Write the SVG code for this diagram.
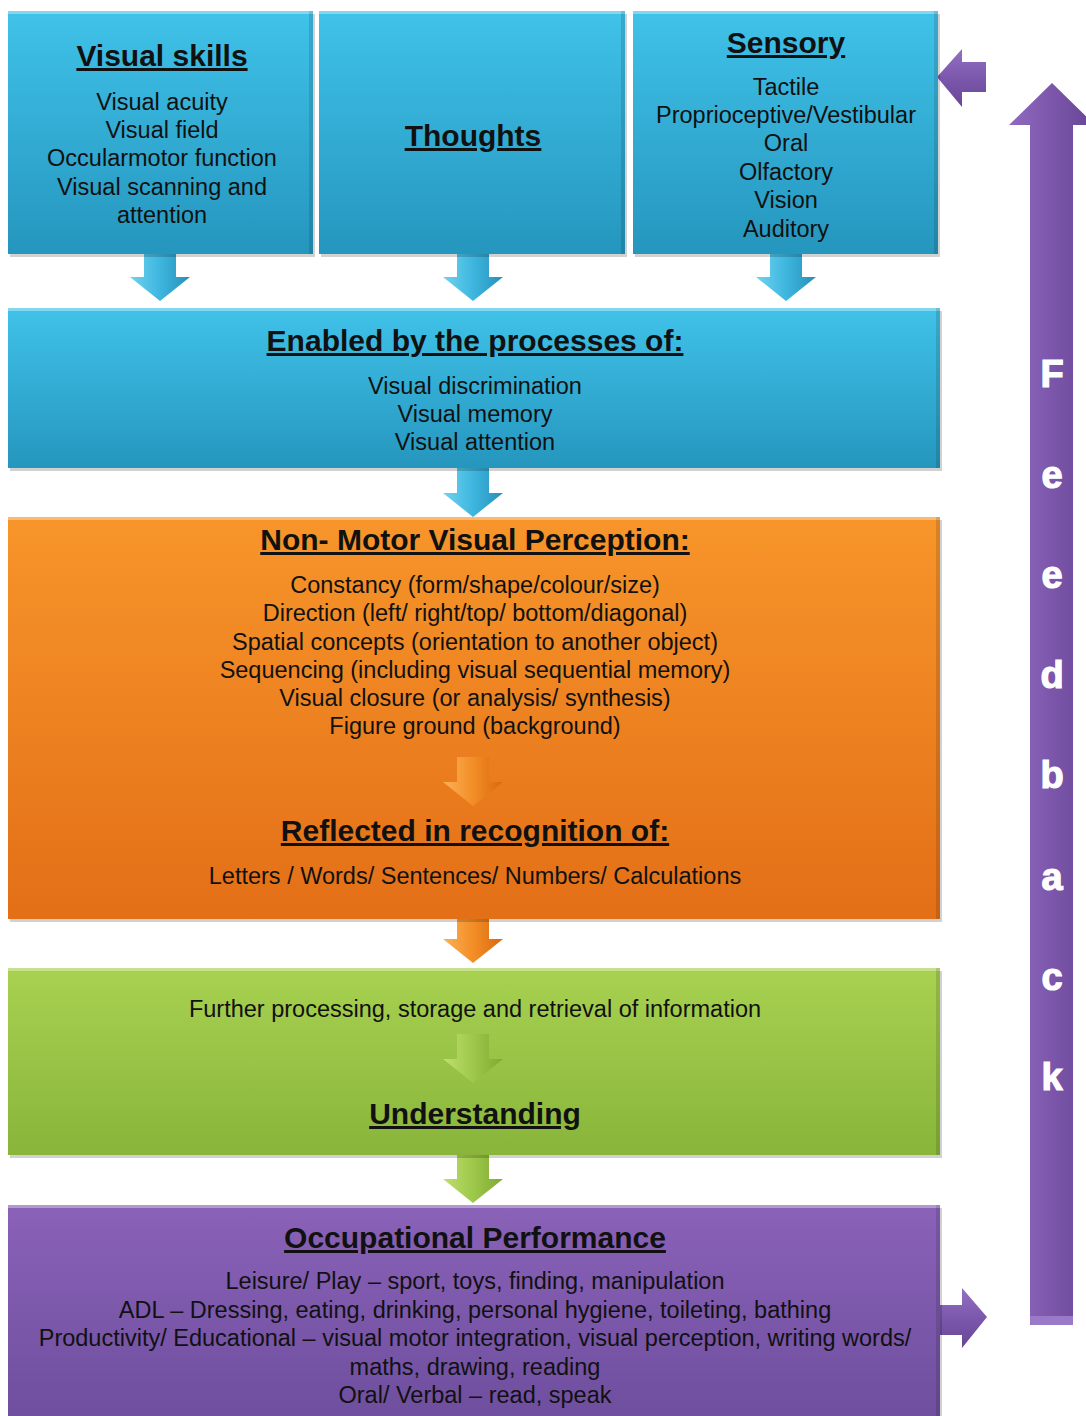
<svg xmlns="http://www.w3.org/2000/svg" width="1086" height="1416" viewBox="0 0 1086 1416">
<defs>
<linearGradient id="gBlue" x1="0" y1="0" x2="0" y2="1"><stop offset="0" stop-color="#40C2E9"/><stop offset="1" stop-color="#2596BE"/></linearGradient>
<linearGradient id="gOrange" x1="0" y1="0" x2="0" y2="1"><stop offset="0" stop-color="#F7952A"/><stop offset="1" stop-color="#E36F17"/></linearGradient>
<linearGradient id="gGreen" x1="0" y1="0" x2="0" y2="1"><stop offset="0" stop-color="#A8D150"/><stop offset="1" stop-color="#88B53A"/></linearGradient>
<linearGradient id="gPurple" x1="0" y1="0" x2="0" y2="1"><stop offset="0" stop-color="#8A62B8"/><stop offset="1" stop-color="#6E4E9E"/></linearGradient>
<linearGradient id="aBlue" x1="0" y1="0" x2="1" y2="0"><stop offset="0" stop-color="#6FD3F0"/><stop offset="0.5" stop-color="#3EB6DF"/><stop offset="1" stop-color="#2690B8"/></linearGradient>
<linearGradient id="aOrange" x1="0" y1="0" x2="1" y2="0"><stop offset="0" stop-color="#FCB058"/><stop offset="0.5" stop-color="#F38E26"/><stop offset="1" stop-color="#D9680F"/></linearGradient>
<linearGradient id="aGreen" x1="0" y1="0" x2="1" y2="0"><stop offset="0" stop-color="#C0DF70"/><stop offset="0.5" stop-color="#9DC84A"/><stop offset="1" stop-color="#7FA932"/></linearGradient>
<linearGradient id="aPurple" x1="0" y1="0" x2="1" y2="0"><stop offset="0" stop-color="#8F6AC0"/><stop offset="0.5" stop-color="#7B56AA"/><stop offset="1" stop-color="#684596"/></linearGradient>
<linearGradient id="aPurpleV" x1="0" y1="0" x2="0" y2="1"><stop offset="0" stop-color="#9270C2"/><stop offset="0.5" stop-color="#7C58AC"/><stop offset="1" stop-color="#684596"/></linearGradient>
<path id="down" d="M-16,0 H16 V25 H30 L0,49 L-30,25 H-16 Z"/>
<style>
text{font-family:"Liberation Sans",Arial,sans-serif;fill:#111;text-anchor:middle}
.t{font-size:30px;font-weight:bold;text-decoration:underline}
.b{font-size:23.5px}
.fb{font-size:38px;font-weight:bold;fill:#fff;stroke:#fff;stroke-width:1.2px}
.sh{fill:#000;opacity:0.18}
.hl{fill:#fff;opacity:0.35}
.dk{fill:#000;opacity:0.12}
</style>
</defs>

<g id="connectors">
<use href="#down" x="160" y="252" fill="url(#aBlue)"/>
<use href="#down" x="473" y="252" fill="url(#aBlue)"/>
<use href="#down" x="786" y="252" fill="url(#aBlue)"/>
<use href="#down" x="473" y="468" fill="url(#aBlue)"/>
<use href="#down" x="473" y="914" fill="url(#aOrange)"/>
<use href="#down" x="473" y="1154" fill="url(#aGreen)"/>
<path d="M937,77 L962,49 V62 H986 V92 H962 V107 Z" fill="url(#aPurpleV)"/>
<path d="M936,1305 H962 V1288 L987,1317 L962,1348 V1335 H936 Z" fill="url(#aPurpleV)"/>
</g>

<g id="feedback">
<path d="M1052,83 L1095,125 H1073 V1325 H1030 V125 H1009 Z" fill="url(#aPurple)"/>
<rect x="1030" y="1316" width="43" height="9" fill="#9A7AC8"/>
<text class="fb" x="1052" y="387">F</text>
<text class="fb" x="1052" y="488">e</text>
<text class="fb" x="1052" y="588">e</text>
<text class="fb" x="1052" y="688">d</text>
<text class="fb" x="1052" y="788">b</text>
<text class="fb" x="1052" y="890">a</text>
<text class="fb" x="1052" y="990">c</text>
<text class="fb" x="1052" y="1090">k</text>
</g>

<g id="visual-skills">
<rect class="sh" x="10" y="14" width="305" height="243"/>
<rect x="8" y="11" width="305" height="243" fill="url(#gBlue)"/>
<rect class="hl" x="8" y="11" width="305" height="3"/>
<rect class="dk" x="309" y="11" width="4" height="243"/>
<text class="t" x="162" y="66">Visual skills</text>
<text class="b" x="162" y="110">Visual acuity</text>
<text class="b" x="162" y="138">Visual field</text>
<text class="b" x="162" y="166">Occularmotor function</text>
<text class="b" x="162" y="195">Visual scanning and</text>
<text class="b" x="162" y="223">attention</text>
</g>

<g id="thoughts">
<rect class="sh" x="321" y="14" width="306" height="243"/>
<rect x="319" y="11" width="306" height="243" fill="url(#gBlue)"/>
<rect class="hl" x="319" y="11" width="306" height="3"/>
<rect class="dk" x="621" y="11" width="4" height="243"/>
<text class="t" x="473" y="146">Thoughts</text>
</g>

<g id="sensory">
<rect class="sh" x="635" y="14" width="305" height="243"/>
<rect x="633" y="11" width="305" height="243" fill="url(#gBlue)"/>
<rect class="hl" x="633" y="11" width="305" height="3"/>
<rect class="dk" x="934" y="11" width="4" height="243"/>
<text class="t" x="786" y="53">Sensory</text>
<text class="b" x="786" y="95">Tactile</text>
<text class="b" x="786" y="123">Proprioceptive/Vestibular</text>
<text class="b" x="786" y="151">Oral</text>
<text class="b" x="786" y="180">Olfactory</text>
<text class="b" x="786" y="208">Vision</text>
<text class="b" x="786" y="237">Auditory</text>
</g>

<g id="enabled">
<rect class="sh" x="10" y="311" width="932" height="160"/>
<rect x="8" y="308" width="932" height="160" fill="url(#gBlue)"/>
<rect class="hl" x="8" y="308" width="932" height="3"/>
<rect class="dk" x="936" y="308" width="4" height="160"/>
<text class="t" x="475" y="351">Enabled by the processes of:</text>
<text class="b" x="475" y="394">Visual discrimination</text>
<text class="b" x="475" y="422">Visual memory</text>
<text class="b" x="475" y="450">Visual attention</text>
</g>

<g id="perception">
<rect class="sh" x="10" y="520" width="932" height="402"/>
<rect x="8" y="517" width="932" height="402" fill="url(#gOrange)"/>
<rect class="hl" x="8" y="517" width="932" height="3"/>
<rect class="dk" x="936" y="517" width="4" height="402"/>
<text class="t" x="475" y="550">Non- Motor Visual Perception:</text>
<text class="b" x="475" y="593">Constancy (form/shape/colour/size)</text>
<text class="b" x="475" y="621">Direction (left/ right/top/ bottom/diagonal)</text>
<text class="b" x="475" y="650">Spatial concepts (orientation to another object)</text>
<text class="b" x="475" y="678">Sequencing (including visual sequential memory)</text>
<text class="b" x="475" y="706">Visual closure (or analysis/ synthesis)</text>
<text class="b" x="475" y="734">Figure ground (background)</text>
<use href="#down" x="473" y="757" fill="url(#aOrange)"/>
<text class="t" x="475" y="841">Reflected in recognition of:</text>
<text class="b" x="475" y="884">Letters / Words/ Sentences/ Numbers/ Calculations</text>
</g>

<g id="understanding">
<rect class="sh" x="10" y="971" width="932" height="187"/>
<rect x="8" y="968" width="932" height="187" fill="url(#gGreen)"/>
<rect class="hl" x="8" y="968" width="932" height="3"/>
<rect class="dk" x="936" y="968" width="4" height="187"/>
<text class="b" x="475" y="1017">Further processing, storage and retrieval of information</text>
<use href="#down" x="473" y="1034" fill="url(#aGreen)"/>
<text class="t" x="475" y="1124">Understanding</text>
</g>

<g id="occupational">
<rect class="sh" x="10" y="1208" width="932" height="210"/>
<rect x="8" y="1205" width="932" height="215" fill="url(#gPurple)"/>
<rect class="hl" x="8" y="1205" width="932" height="3"/>
<rect class="dk" x="936" y="1205" width="4" height="215"/>
<text class="t" x="475" y="1248">Occupational Performance</text>
<text class="b" x="475" y="1289">Leisure/ Play – sport, toys, finding, manipulation</text>
<text class="b" x="475" y="1318">ADL – Dressing, eating, drinking, personal hygiene, toileting, bathing</text>
<text class="b" x="475" y="1346">Productivity/ Educational – visual motor integration, visual perception, writing words/</text>
<text class="b" x="475" y="1375">maths, drawing, reading</text>
<text class="b" x="475" y="1403">Oral/ Verbal – read, speak</text>
</g>
</svg>
